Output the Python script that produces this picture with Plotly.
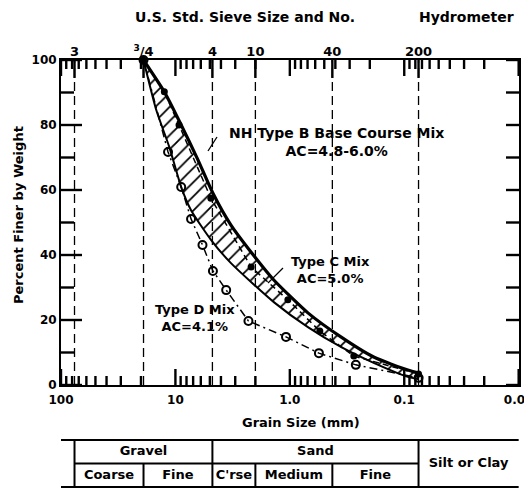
import math
import plotly.graph_objects as go

# ---- data -------------------------------------------------------------
# U.S. standard sieves: opening (mm) and designation
sieve_mm = [76.2, 19.0, 4.75, 2.0, 0.425, 0.075]
sieve_lbl = ["3", "<sup>3</sup>/4", "4", "10", "40", "200"]

# NH Type B base course specification band (percent passing)
band_hi_mm = [19.0, 12.4, 8.9, 6.4, 4.7, 3.27, 1.91, 1.38, 0.695, 0.358, 0.185, 0.093, 0.075]
band_hi_pct = [100, 90.0, 80.0, 69.5, 59.0, 49.2, 38.3, 32.3, 22.2, 14.8, 8.6, 4.6, 3.7]
band_lo_mm = [19.0, 14.7, 11.3, 8.9, 7.3, 4.87, 3.27, 1.38, 0.695, 0.358, 0.185, 0.093, 0.075]
band_lo_pct = [100, 84.6, 73.2, 60.9, 53.8, 44.6, 37.5, 25.5, 17.8, 11.7, 6.8, 2.5, 1.8]

# Type C mix, AC = 5.0 %
typec_mm = [19.0, 12.5, 9.3, 4.9, 2.18, 1.04, 0.547, 0.276, 0.075]
typec_pct = [100, 90.2, 80.0, 57.5, 36.3, 26.2, 16.6, 8.9, 3.4]

# Type D mix, AC = 4.1 %
typed_mm = [19.0, 11.6, 8.9, 7.3, 5.8, 4.7, 3.6, 2.3, 1.08, 0.557, 0.265, 0.075]
typed_pct = [100, 71.7, 60.9, 51.1, 43.1, 35.1, 29.2, 19.7, 14.8, 9.8, 6.2, 2.2]

# Soil classification table (boundaries in mm)
class_edges = [100.0, 76.2, 19.0, 4.75, 2.0, 0.425, 0.075, 0.01]
upper_row = [("Gravel", 76.2, 4.75), ("Sand", 4.75, 0.075)]
lower_row = [("Coarse", 76.2, 19.0), ("Fine", 19.0, 4.75), ("C'rse", 4.75, 2.0),
             ("Medium", 2.0, 0.425), ("Fine", 0.425, 0.075)]
fines_label = ("Silt or Clay", 0.075, 0.01)

# axis tick positions
x_major = [100, 10, 1, 0.1, 0.01]
x_major_lbl = ["100", "10", "1.0", "0.1", "0.01"]
x_minor = [m * 10 ** e for e in range(-2, 2) for m in range(2, 10)]
y_major = [0, 20, 40, 60, 80, 100]
y_minor = [10, 30, 50, 70, 90]

# ---- layout helpers -----------------------------------------------------
W, H = 524, 488
ML, MR, MT, MB = 61, 5, 60, 0
PW, PH = W - ML - MR, H - MT - MB
FONT = "DejaVu Sans"
LOG_LO, LOG_HI = -2.003, 2.0          # x range in decades (reversed on screen)


def px_x(px):
    return (px - ML) / PW


def px_y(py):
    return (H - MB - py) / PH


Y_DOMAIN = [px_y(385), 1]


def xfrac(v):
    """paper x of a grain size on the reversed log axis"""
    return (LOG_HI - math.log10(v)) / (LOG_HI - LOG_LO)


def yfrac(p):
    """paper y of a percentage on the main axis"""
    return Y_DOMAIN[0] + (Y_DOMAIN[1] - Y_DOMAIN[0]) * p / 100.0


def gmean(a, b):
    return (a * b) ** 0.5


fig = go.Figure()

# dashed verticals at each sieve opening
for s in sieve_mm:
    fig.add_trace(go.Scatter(x=[s, s], y=[0, 100], mode="lines", xaxis="x2", yaxis="y",
                             line=dict(color="black", width=1.3, dash="9px,5px"),
                             hoverinfo="skip"))

# specification band (hatched)
fig.add_trace(go.Scatter(x=band_lo_mm, y=band_lo_pct, mode="lines",
                         line=dict(color="black", width=2, shape="spline", smoothing=0.6),
                         hoverinfo="skip"))
fig.add_trace(go.Scatter(x=band_hi_mm, y=band_hi_pct, mode="lines", fill="tonexty",
                         fillcolor="rgba(0,0,0,0)",
                         fillpattern=dict(shape="/", fgcolor="black", bgcolor="rgba(0,0,0,0)",
                                          size=10, solidity=0.18),
                         line=dict(color="black", width=3.2, shape="spline", smoothing=0.6),
                         hoverinfo="skip"))

# Type D mix: open circles, dash-dot
fig.add_trace(go.Scatter(x=typed_mm, y=typed_pct, mode="lines+markers", cliponaxis=False,
                         line=dict(color="black", width=1.5, dash="8px,4px,2px,4px"),
                         marker=dict(symbol="circle-open", size=8, color="black",
                                     line=dict(width=2))))

# Type C mix: filled circles, dashed
fig.add_trace(go.Scatter(x=typec_mm, y=typec_pct, mode="lines+markers", cliponaxis=False,
                         line=dict(color="black", width=1.5, dash="6px,4px"),
                         marker=dict(symbol="circle", size=7, color="black")))

# ---- classification table below the chart ------------------------------
tbl_line = dict(color="black", width=2)
lo, mid, hi = 0, 1, 2
fig.add_trace(go.Scatter(x=[class_edges[0], class_edges[-1]], y=[hi, hi], mode="lines",
                         yaxis="y2", line=tbl_line, hoverinfo="skip"))
fig.add_trace(go.Scatter(x=[class_edges[0], class_edges[-1]], y=[lo, lo], mode="lines",
                         yaxis="y2", line=tbl_line, hoverinfo="skip"))
fig.add_trace(go.Scatter(x=[class_edges[1], class_edges[6]], y=[mid, mid], mode="lines",
                         yaxis="y2", line=tbl_line, hoverinfo="skip"))
for e in [class_edges[1], class_edges[3], class_edges[6]]:
    fig.add_trace(go.Scatter(x=[e, e], y=[lo, hi], mode="lines", yaxis="y2",
                             line=tbl_line, hoverinfo="skip"))
for e in [class_edges[2], class_edges[4], class_edges[5]]:
    fig.add_trace(go.Scatter(x=[e, e], y=[lo, mid], mode="lines", yaxis="y2",
                             line=tbl_line, hoverinfo="skip"))

tx, ty, tt = [], [], []
for name, a, b in upper_row:
    tx.append(gmean(a, b)); ty.append(1.5); tt.append(name)
for name, a, b in lower_row:
    tx.append(gmean(a, b)); ty.append(0.5); tt.append(name)
tx.append(gmean(fines_label[1], fines_label[2])); ty.append(1.0); tt.append(fines_label[0])
fig.add_trace(go.Scatter(x=tx, y=ty, text=tt, mode="text", yaxis="y2",
                         textfont=dict(family=FONT, size=13, weight="bold", color="black"),
                         hoverinfo="skip"))

# ---- axes ---------------------------------------------------------------
tickfont = dict(family=FONT, size=12, weight="bold", color="black")

fig.update_layout(
    template="none",
    width=W, height=H, autosize=False, margin=dict(l=ML, r=MR, t=MT, b=MB, autoexpand=False),
    paper_bgcolor="white", plot_bgcolor="white", showlegend=False,
    xaxis=dict(type="log", range=[LOG_HI, LOG_LO], anchor="y", automargin=False,
               showgrid=False, zeroline=False,
               showline=True, linecolor="black", linewidth=2, mirror=True,
               tickmode="array", tickvals=x_major, ticktext=x_major_lbl,
               ticks="", ticklabeloverflow="allow", ticklabelstandoff=3, tickfont=tickfont),
    xaxis2=dict(type="log", range=[LOG_HI, LOG_LO], overlaying="x", side="top", anchor="y",
                automargin=False, showgrid=False, zeroline=False, showline=False,
                tickmode="array", tickvals=sieve_mm, ticktext=sieve_lbl, ticks="",
                ticklabeloverflow="allow",
                tickfont=dict(family=FONT, size=13, weight="bold", color="black")),
    yaxis=dict(range=[0, 100], domain=Y_DOMAIN, automargin=False,
               showgrid=False, zeroline=False,
               showline=True, linecolor="black", linewidth=2, mirror=True,
               tickmode="array", tickvals=y_major, ticks="", tickfont=tickfont),
    yaxis2=dict(domain=[0, px_y(439)], range=[-2 / 47, 2 + 2 / 47], visible=False,
                anchor="x", automargin=False),
)

# ---- inward tick marks on all four sides ---------------------------------
def tick(x0, y0, x1, y1, width=2.4):
    fig.add_shape(type="line", xref="paper", yref="paper", layer="above", opacity=1,
                  x0=x0, y0=y0, x1=x1, y1=y1, line=dict(color="black", width=width))


for vals, length in [(x_major, 16), (x_minor, 9)]:
    for v in vals:
        xf = xfrac(v)
        tick(xf, Y_DOMAIN[0], xf, Y_DOMAIN[0] + length / PH)      # bottom
        tick(xf, 1, xf, 1 - length / PH)                          # top
for s in sieve_mm:
    xf = xfrac(s)
    tick(xf, 1, xf, 1 - 18 / PH)
for vals, length in [(y_major, 21), (y_minor, 13)]:
    for p in vals:
        tick(0, yfrac(p), length / PW, yfrac(p))                  # left
for p in y_major + y_minor:
    tick(1, yfrac(p), 1 - 13 / PW, yfrac(p))                      # right

# ---- text ---------------------------------------------------------------
def label(text, px, py, size=13, angle=0, align="center"):
    fig.add_annotation(text=text, xref="paper", yref="paper", x=px_x(px), y=px_y(py),
                       xanchor="center", yanchor="middle", showarrow=False,
                       textangle=angle, align=align,
                       font=dict(family=FONT, size=size, weight="bold", color="black"))


label("U.S. Std. Sieve Size and No.", 245, 17, size=14)
label("Hydrometer", 466, 17, size=14)
label("Grain Size (mm)", 301, 422, size=13)
label("Percent Finer by Weight", 18, 215, size=13, angle=-90)
label("NH Type B Base Course Mix<br>AC=4.8-6.0%", 336, 142, size=14)
label("Type C Mix<br>AC=5.0%", 330, 270, size=13)
label("Type D Mix<br>AC=4.1%", 195, 318, size=13)

# leader strokes from labels to the curves
for (x0, y0, x1, y1) in [(217, 137, 208, 151), (283, 268, 268, 283)]:
    fig.add_shape(type="line", xref="paper", yref="paper", opacity=1,
                  x0=px_x(x0), y0=px_y(y0), x1=px_x(x1), y1=px_y(y1),
                  line=dict(color="black", width=1.3))

fig.write_html("out.html")
